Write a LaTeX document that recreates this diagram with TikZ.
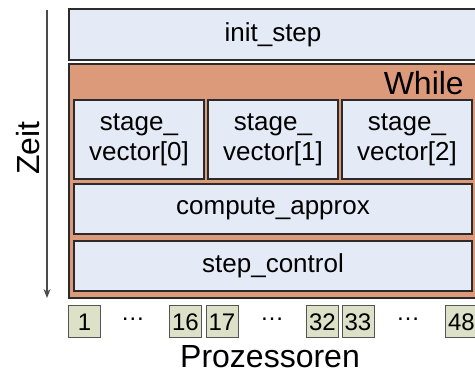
\documentclass[tikz,border=0pt]{standalone}
\usepackage{fontspec}
\setmainfont{Liberation Sans}
\usepackage{tikz}
\usetikzlibrary{arrows.meta}
\definecolor{boxfill}{HTML}{E5EBF6}
\definecolor{loopfill}{HTML}{DD9A7B}
\definecolor{procfill}{HTML}{DCE1C7}
\definecolor{edge}{HTML}{2B2B2B}
\tikzset{
  task/.style={draw=edge, fill=boxfill, line width=1.3pt, inner sep=0pt, align=center, font=\fontsize{26}{30}\selectfont},
  loopbox/.style={draw=edge, fill=loopfill, line width=1.3pt, inner sep=0pt},
  proc/.style={draw=edge!80, fill=procfill, line width=1pt, minimum width=32pt, minimum height=32pt, inner sep=0pt, font=\fontsize{24}{28}\selectfont},
  biglab/.style={font=\fontsize{32}{36}\selectfont, inner sep=0pt},
  dotlab/.style={font=\fontsize{24}{28}\selectfont, anchor=base, inner sep=0pt},
  timeline/.style={draw=edge!85, line width=1.3pt, -{Stealth[length=9pt,width=7pt]}},
}

\begin{document}
\begin{tikzpicture}[x=1pt,y=-1pt]
  \useasboundingbox (0,0) rectangle (475,374);
  \clip (0,0) rectangle (475,374);
  % time axis
  \coordinate (tstart) at (47,10);
  \coordinate (tend) at (47,298);
  \draw[timeline] (tstart) -- (tend);
  \node[biglab, rotate=90] (zeit) at (28,148) {Zeit};
  % outer blocks
  \node[task, minimum width=408pt, minimum height=51pt] (init) at (273,34.5) {init\_step};
  \node[loopbox, minimum width=408pt, minimum height=234pt] (while) at (273,181) {};
  \node[biglab, anchor=base east] (whilelab) at (464,95) {While};
  % loop body
  \foreach \i/\x in {0/139,1/273,2/407}
    \node[task, minimum width=130pt, minimum height=79pt] (stage\i) at (\x,139.5) {stage\_\\vector[\i]};
  \node[task, minimum width=398pt, minimum height=50pt] (compute) at (273,209) {compute\_approx};
  \node[task, minimum width=398pt, minimum height=50pt] (stepctl) at (273,266) {step\_control};
  % processors
  \foreach \n/\x in {1/84.5,16/185.5,17/222,32/322.5,33/358,48/461.5}
    \node[proc] (p\n) at (\x,322) {\n};
  \foreach \x [count=\k] in {133,272,408}
    \node[dotlab] (dots\k) at (\x,321) {…};
  \node[biglab] (proz) at (270,357) {Prozessoren};
\end{tikzpicture}
\end{document}
